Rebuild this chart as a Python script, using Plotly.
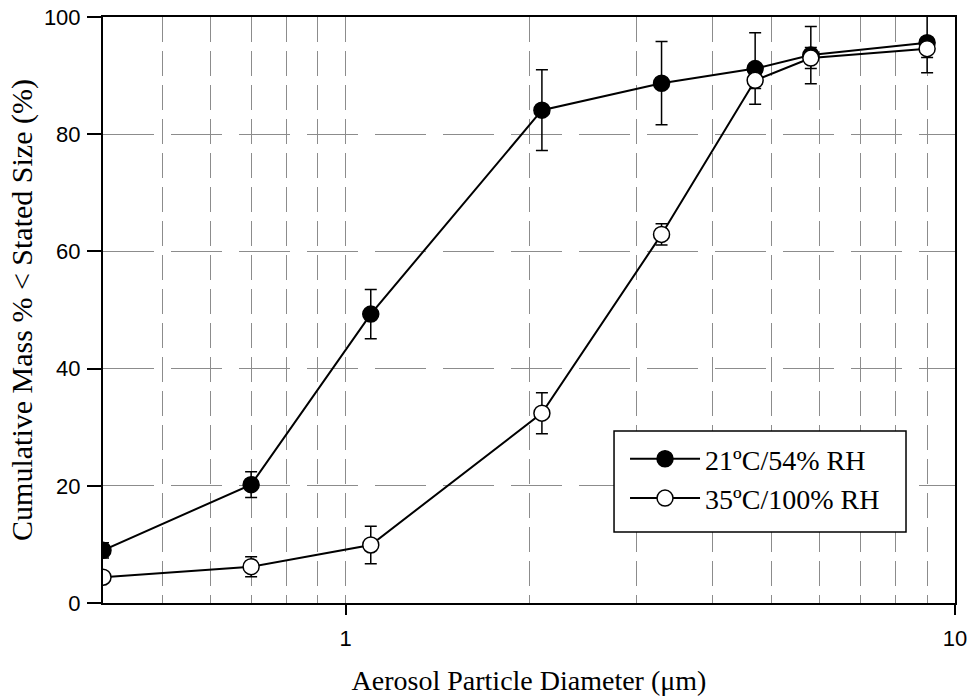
import plotly.graph_objects as go

diam = [0.4, 0.7, 1.1, 2.1, 3.3, 4.7, 5.8, 9.0]
dry_mean = [9.0, 20.2, 49.3, 84.1, 88.7, 91.2, 93.5, 95.6]
dry_err = [1.3, 2.2, 4.2, 6.9, 7.1, 6.1, 4.9, 5.1]
humid_mean = [4.4, 6.2, 9.9, 32.4, 62.9, 89.2, 93.0, 94.6]
humid_err = [0.0, 1.7, 3.2, 3.5, 1.8, 1.4, 1.8, 1.5]
series_names = ["21ºC/54% RH", "35ºC/100% RH"]

x_major = [1, 10]
x_minor = [0.5, 0.6, 0.7, 0.8, 0.9, 2, 3, 4, 5, 6, 7, 8, 9]
y_ticks = [0, 20, 40, 60, 80, 100]

serif = "Liberation Serif"
sans = "Liberation Sans"

fig = go.Figure()
fig.add_trace(go.Scatter(
    x=diam, y=dry_mean, name=series_names[0], mode="lines+markers",
    line=dict(color="black", width=2),
    marker=dict(symbol="circle", size=16, color="black", line=dict(color="black", width=1.5)),
    error_y=dict(type="data", array=dry_err, visible=True, color="black", thickness=1.5, width=6),
))
fig.add_trace(go.Scatter(
    x=diam, y=humid_mean, name=series_names[1], mode="lines+markers",
    line=dict(color="black", width=2),
    marker=dict(symbol="circle", size=16, color="white", line=dict(color="black", width=1.5)),
    error_y=dict(type="data", array=humid_err, visible=True, color="black", thickness=1.5, width=6),
))

grid_color = "#8c8c8c"
fig.update_layout(
    width=973, height=696,
    margin=dict(l=103, r=18, t=17, b=93, autoexpand=False),
    paper_bgcolor="white", plot_bgcolor="white",
    showlegend=True,
    legend=dict(
        x=0.6127, y=0.2884, xanchor="left", yanchor="top",
        borderwidth=0, bgcolor="rgba(0,0,0,0)",
        font=dict(family=serif, size=28, color="black"),
        itemwidth=70, tracegroupgap=0,
    ),
    shapes=[dict(type="rect", xref="paper", yref="paper",
                 x0=0.5998, x1=0.9425, y0=0.1212, y1=0.2935,
                 line=dict(color="black", width=1.5), fillcolor="white", layer="above")],
    xaxis=dict(
        type="log", range=[-0.39794, 1.0], automargin=False,
        tickvals=x_major, ticktext=["1", "10"], ticklabeloverflow="allow",
        ticks="outside", ticklen=10, tickwidth=1.5, tickcolor="black",
        tickfont=dict(family=sans, size=22, color="black"), ticklabelstandoff=5,
        showline=True, linecolor="black", linewidth=2, mirror=True,
        showgrid=True, gridcolor=grid_color, gridwidth=1, griddash="25px,9px",
        zeroline=False,
        minor=dict(tickvals=x_minor, showgrid=True, gridcolor=grid_color,
                   gridwidth=1, griddash="25px,9px", ticks=""),
        title=dict(text="Aerosol Particle Diameter (μm)",
                   font=dict(family=serif, size=28, color="black"), standoff=20),
    ),
    yaxis=dict(
        range=[0, 100], tickvals=y_ticks, automargin=False, ticklabeloverflow="allow",
        ticks="outside", ticklen=14, tickwidth=1.5, tickcolor="black",
        tickfont=dict(family=sans, size=22, color="black"), ticklabelstandoff=2,
        showline=True, linecolor="black", linewidth=2, mirror=True,
        showgrid=True, gridcolor=grid_color, gridwidth=1, griddash="51px,17px",
        zeroline=False,
        title=dict(text="Cumulative Mass % < Stated Size (%)",
                   font=dict(family=serif, size=30, color="black"), standoff=2),
    ),
)

fig.write_html("out.html", config={"displayModeBar": False},
               post_script="document.body.style.margin='0';")
